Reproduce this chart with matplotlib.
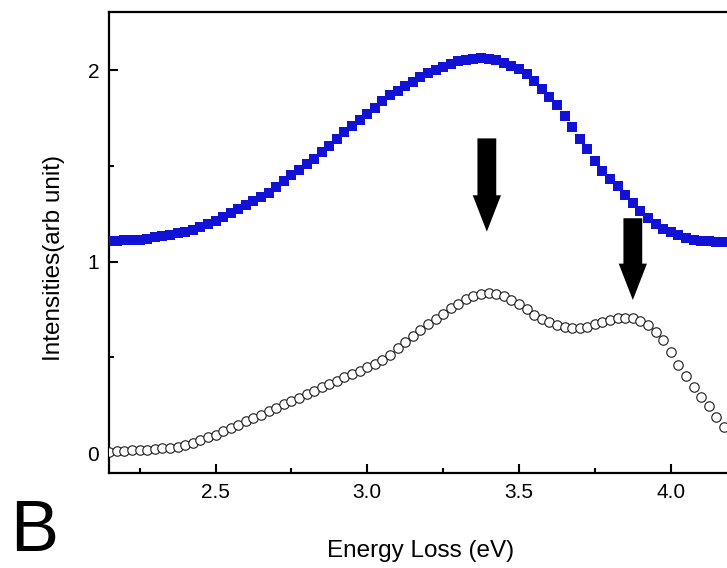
import matplotlib
matplotlib.use('Agg')
import matplotlib.pyplot as plt
from matplotlib.ticker import MultipleLocator

plt.rcParams['font.family'] = ['Liberation Sans', 'DejaVu Sans']

# energy-loss grid (eV)
energy = [2.150, 2.175, 2.200, 2.225, 2.250, 2.275, 2.300, 2.325, 2.350, 2.375,
          2.400, 2.425, 2.450, 2.475, 2.500, 2.525, 2.550, 2.575, 2.600, 2.625,
          2.650, 2.675, 2.700, 2.725, 2.750, 2.775, 2.800, 2.825, 2.850, 2.875,
          2.900, 2.925, 2.950, 2.975, 3.000, 3.025, 3.050, 3.075, 3.100, 3.125,
          3.150, 3.175, 3.200, 3.225, 3.250, 3.275, 3.300, 3.325, 3.350, 3.375,
          3.400, 3.425, 3.450, 3.475, 3.500, 3.525, 3.550, 3.575, 3.600, 3.625,
          3.650, 3.675, 3.700, 3.725, 3.750, 3.775, 3.800, 3.825, 3.850, 3.875,
          3.900, 3.925, 3.950, 3.975, 4.000, 4.025, 4.050, 4.075, 4.100, 4.125,
          4.150, 4.175]

# upper spectrum (blue squares)
upper = [1.107, 1.108, 1.110, 1.112, 1.115, 1.120, 1.126, 1.132, 1.139, 1.147,
         1.156, 1.167, 1.180, 1.195, 1.212, 1.232, 1.254, 1.276, 1.297, 1.316,
         1.336, 1.360, 1.390, 1.422, 1.450, 1.478, 1.507, 1.536, 1.570, 1.605,
         1.642, 1.675, 1.707, 1.738, 1.770, 1.804, 1.838, 1.870, 1.893, 1.915,
         1.940, 1.962, 1.982, 2.000, 2.018, 2.034, 2.046, 2.054, 2.059, 2.061,
         2.058, 2.050, 2.037, 2.022, 2.003, 1.978, 1.945, 1.903, 1.860, 1.815,
         1.760, 1.702, 1.642, 1.585, 1.527, 1.475, 1.432, 1.392, 1.350, 1.307,
         1.266, 1.228, 1.197, 1.172, 1.152, 1.137, 1.124, 1.115, 1.109, 1.105,
         1.102, 1.100]

# lower spectrum (open circles)
lower = [0.008, 0.010, 0.012, 0.014, 0.016, 0.018, 0.021, 0.024, 0.028, 0.034,
         0.042, 0.054, 0.068, 0.082, 0.096, 0.113, 0.130, 0.148, 0.165, 0.182,
         0.200, 0.218, 0.236, 0.254, 0.272, 0.290, 0.308, 0.326, 0.343, 0.360,
         0.378, 0.396, 0.413, 0.430, 0.448, 0.466, 0.487, 0.512, 0.550, 0.580,
         0.610, 0.642, 0.672, 0.700, 0.727, 0.755, 0.780, 0.803, 0.820, 0.831,
         0.834, 0.830, 0.818, 0.800, 0.776, 0.750, 0.723, 0.700, 0.682, 0.668,
         0.658, 0.652, 0.653, 0.660, 0.672, 0.685, 0.696, 0.704, 0.707, 0.704,
         0.690, 0.668, 0.632, 0.588, 0.528, 0.462, 0.400, 0.345, 0.295, 0.248,
         0.190, 0.135]

# arrows: (x, top, tip)
arrow_x = [3.394, 3.875]
arrow_top = [1.643, 1.226]
arrow_tip = [1.156, 0.799]

fig = plt.figure(figsize=(7.27, 5.68), dpi=100)
ax = fig.add_axes([0.1499, 0.1673, 0.898, 0.8116])

ax.plot(energy, upper, 's', color='#1212d6', markersize=7.2,
        markeredgewidth=0, zorder=3)
ax.plot(energy, lower, 'o', markerfacecolor='white', markeredgecolor='#1a1a1a',
        markersize=6.8, markeredgewidth=0.8, zorder=3)

for xa, yt, yb in zip(arrow_x, arrow_top, arrow_tip):
    ax.arrow(xa, yt, 0, yb - yt, width=0.062, head_width=0.093,
             head_length=0.19, length_includes_head=True,
             color='black', linewidth=0, zorder=4)

ax.set_xlim(2.149, 4.30)
ax.set_ylim(-0.104, 2.303)
ax.xaxis.set_minor_locator(MultipleLocator(0.25))
ax.yaxis.set_minor_locator(MultipleLocator(0.5))
ax.set_xticks([2.5, 3.0, 3.5, 4.0])
ax.set_xticklabels(['2.5', '3.0', '3.5', '4.0'])
ax.set_yticks([0, 1, 2])
ax.set_yticklabels(['0', '1', '2'])

for s in ax.spines.values():
    s.set_linewidth(1.6)
ax.tick_params(which='both', direction='in', labelsize=15, width=1.5, pad=7)
ax.tick_params(which='major', length=6.5)
ax.tick_params(which='minor', length=3.5)
ax.tick_params(top=False, right=False, which='both')

ax.set_xlabel('Energy Loss (eV)', fontsize=17.5)
ax.xaxis.set_label_coords((421 - 109) / 653, -0.145)
ax.set_ylabel('Intensities(arb unit)', fontsize=17.5)
ax.yaxis.set_label_coords(-0.067, 0.466)

fig.text(10 / 727, 0.004, 'B', fontsize=52, ha='left', va='bottom')

fig.savefig('out.png', dpi=100)
